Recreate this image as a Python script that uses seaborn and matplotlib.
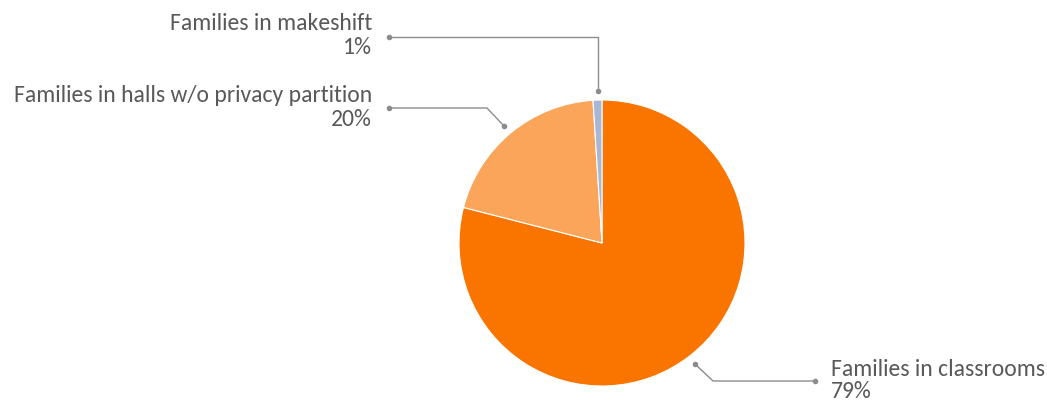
import matplotlib
matplotlib.use("Agg")
import matplotlib.pyplot as plt
import seaborn as sns

categories = ["Families in classrooms", "Families in halls w/o privacy partition", "Families in makeshift"]
values = [79, 20, 1]
pct_labels = ["79%", "20%", "1%"]
colors = ["#FA7500", "#FBA55B", "#AAB7D4"]

sns.set_theme(style="white")
plt.rcParams['font.family'] = ['Carlito', 'Lato', 'DejaVu Sans']

W, H = 1047, 403
fig = plt.figure(figsize=(W / 100, H / 100), dpi=100)
ax = fig.add_axes([0, 0, 1, 1])

def Y(y):
    return H - y

ax.pie(values, colors=colors, startangle=90, counterclock=False,
       center=(602, Y(243)), radius=143,
       wedgeprops=dict(edgecolor="white", linewidth=0.8))
ax.set_xlim(0, W)
ax.set_ylim(0, H)
ax.set_aspect("equal")
ax.axis("off")

line_col = "#8C8C8C"
txt_col = "#595959"
fs = 17.0

# leader lines (pixel coordinates)
leaders = [
    [(695, 364), (713, 381), (815, 381)],
    [(504, 126), (487, 108), (389, 108)],
    [(598, 91), (598, 37), (389, 37)],
]
for pts in leaders:
    xs = [p[0] for p in pts]
    ys = [Y(p[1]) for p in pts]
    ax.plot(xs, ys, color=line_col, lw=1.0, solid_capstyle="butt")
    ax.plot([xs[0], xs[-1]], [ys[0], ys[-1]], "o", color=line_col, ms=3)

# labels
ax.text(831, Y(369), categories[0], ha="left", va="center", fontsize=fs, color=txt_col)
ax.text(831, Y(392), pct_labels[0], ha="left", va="center", fontsize=fs, color=txt_col)
ax.text(372, Y(96), categories[1], ha="right", va="center", fontsize=fs, color=txt_col)
ax.text(372, Y(119), pct_labels[1], ha="right", va="center", fontsize=fs, color=txt_col)
ax.text(372, Y(24), categories[2], ha="right", va="center", fontsize=fs, color=txt_col)
ax.text(372, Y(47), pct_labels[2], ha="right", va="center", fontsize=fs, color=txt_col)

fig.savefig("out.png", dpi=100)
